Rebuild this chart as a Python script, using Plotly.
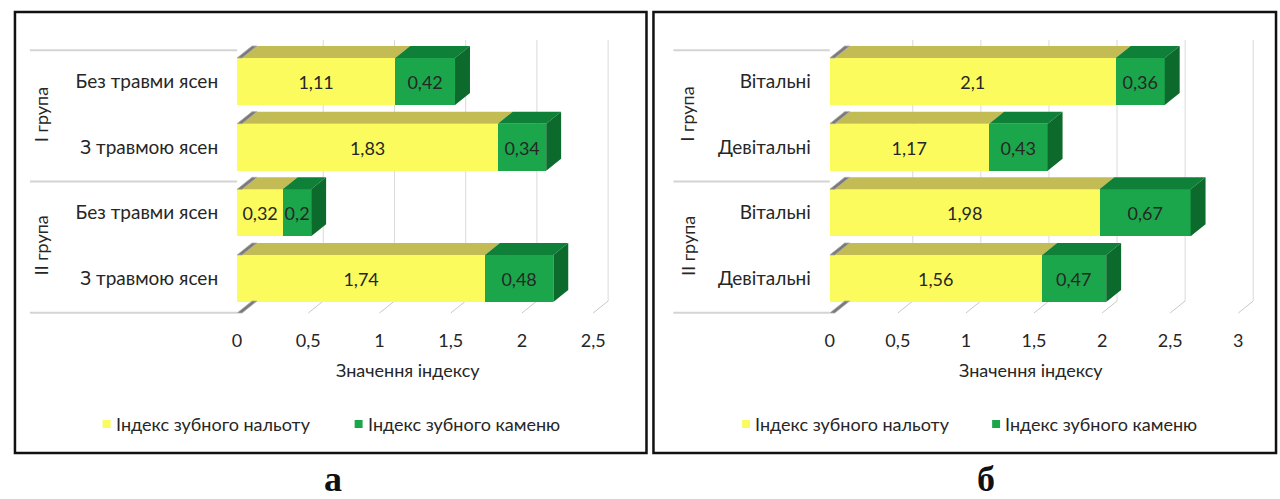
import plotly.graph_objects as go

# ---------------- data ----------------
groups = ["I група", "II група"]
series_names = ["Індекс зубного нальоту", "Індекс зубного каменю"]
axis_title = "Значення індексу"
panel_letters = ["а", "б"]

cats_a = ["Без травми ясен", "З травмою ясен", "Без травми ясен", "З травмою ясен"]
plaque_a = [1.11, 1.83, 0.32, 1.74]
calculus_a = [0.42, 0.34, 0.2, 0.48]
ticks_a = [0, 0.5, 1, 1.5, 2, 2.5]

cats_b = ["Вітальні", "Девітальні", "Вітальні", "Девітальні"]
plaque_b = [2.1, 1.17, 1.98, 1.56]
calculus_b = [0.36, 0.43, 0.67, 0.47]
ticks_b = [0, 0.5, 1, 1.5, 2, 2.5, 3]

# ---------------- styling / geometry ----------------
W, H = 1280, 499
FONT = "Lato"
FS = 18
TXT = "#262626"
YEL_FRONT, YEL_TOP = "#fbfb5e", "#c3bc55"
GRN_FRONT, GRN_TOP, GRN_SIDE = "#1ca64b", "#0f8038", "#0b6a2c"
GRID = "#d9d9d9"

ROW_PX = 65.67          # pixel pitch between rows
ROW0_PX = 81.5          # pixel centre of the first row
BAR_W = 47 / ROW_PX     # front-face thickness in row units
DEPTH_X_PX, DEPTH_Y_PX = 15, 12
Y_TOP_PX, Y_BOT_PX = 40, 316
FLOOR_PX = 313

def py(v):
    """row value -> pixel from top"""
    return ROW0_PX + ROW_PX * v

def pv(p):
    """pixel from top -> row value"""
    return (p - ROW0_PX) / ROW_PX

def fx(p):
    return p / W

def fy(p):
    return 1 - p / H

panels = [
    dict(cats=cats_a, plaque=plaque_a, calc=calculus_a, ticks=ticks_a,
         zero=233, scale=143.0, right=640, xa="x", ya="y",
         border=(10, 644), grp_line=(25, 233), grp_x=36, lab_right=213,
         title_x=405, legend=(98, 351), letter_x=329),
    dict(cats=cats_b, plaque=plaque_b, calc=calculus_b, ticks=ticks_b,
         zero=828, scale=136.7, right=1268, xa="x2", ya="y2",
         border=(651, 1276), grp_line=(671, 828), grp_x=685, lab_right=808,
         title_x=1030, legend=(740, 991), letter_x=985),
]

fig = go.Figure()
shapes, annotations = [], []
dy = DEPTH_Y_PX / ROW_PX
rows = list(range(4))
y_range = [pv(Y_BOT_PX), pv(Y_TOP_PX)]

def fmt(v):
    return f"{v:g}".replace(".", ",")

def note(x, y, text, size=FS, **kw):
    d = dict(xref="paper", yref="paper", x=fx(x), y=fy(y), text=text, showarrow=False,
             xanchor="center", yanchor="middle",
             font=dict(family=FONT, size=size, color=TXT))
    d.update(kw)
    return d

for k, p in enumerate(panels):
    dx = DEPTH_X_PX / p["scale"]
    xr = (p["right"] - p["zero"]) / p["scale"]
    xref, yref = p["xa"], p["ya"]

    # front faces of the stacked bars
    for vals, nm, col in ((p["plaque"], series_names[0], YEL_FRONT),
                          (p["calc"], series_names[1], GRN_FRONT)):
        fig.add_trace(go.Bar(
            y=rows, x=vals, orientation="h", width=BAR_W,
            name=nm, marker=dict(color=col, line=dict(width=0)),
            text=[fmt(v) for v in vals], textposition="inside", textangle=0,
            insidetextanchor="middle", textfont=dict(family=FONT, size=FS, color=TXT),
            xaxis=xref, yaxis=yref, showlegend=False, hoverinfo="skip"))

    # back wall grid lines and floor diagonals
    y_back_floor = pv(FLOOR_PX) - dy
    for t in p["ticks"][1:]:
        shapes.append(dict(type="line", xref=xref, yref=yref, layer="below",
                           x0=t + dx, x1=t + dx, y0=y_range[1], y1=y_back_floor,
                           line=dict(color=GRID, width=1)))
        shapes.append(dict(type="line", xref=xref, yref=yref, layer="below",
                           x0=t + dx, x1=t, y0=y_back_floor, y1=pv(FLOOR_PX),
                           line=dict(color="#c8c8c8", width=1)))

    # 3-D top and side faces
    for i in rows:
        yt = i - BAR_W / 2
        yb = i + BAR_W / 2
        segs = [(0, p["plaque"][i], YEL_TOP),
                (p["plaque"][i], p["plaque"][i] + p["calc"][i], GRN_TOP)]
        for x0, x1, col in segs:
            shapes.append(dict(type="path", xref=xref, yref=yref, layer="above",
                               path=f"M{x0},{yt} L{x1},{yt} L{x1+dx},{yt-dy} L{x0+dx},{yt-dy} Z",
                               fillcolor=col, line=dict(width=0)))
        xe = segs[-1][1]
        shapes.append(dict(type="path", xref=xref, yref=yref, layer="above",
                           path=f"M{xe},{yt} L{xe+dx},{yt-dy} L{xe+dx},{yb-dy} L{xe},{yb} Z",
                           fillcolor=GRN_SIDE, line=dict(width=0)))
    # grey wall edge pieces at the left end of each bar and at the floor
    w = 5 / p["scale"]
    for yt in [i - BAR_W / 2 for i in rows] + [pv(FLOOR_PX)]:
        shapes.append(dict(type="path", xref=xref, yref=yref, layer="above",
                           path=f"M0,{yt} L{w},{yt} L{dx+w},{yt-dy} L{dx},{yt-dy} Z",
                           fillcolor="#7a7a7a", line=dict(color="#b0b0b0", width=0.8)))

    # group separators in the label area
    for v in (-0.5, 1.5, 3.5):
        yy = fy(py(v) + 1.5)
        shapes.append(dict(type="line", xref="paper", yref="paper",
                           x0=fx(p["grp_line"][0]), x1=fx(p["grp_line"][1]), y0=yy, y1=yy,
                           line=dict(color="#d4d4d4", width=2)))
    for g, v in zip(groups, (0.5, 2.5)):
        annotations.append(note(p["grp_x"], py(v), g, textangle=-90))

    # axis title
    annotations.append(note(p["title_x"], 370, axis_title))

    # legend
    for lx, nm, col in zip(p["legend"], series_names, (YEL_FRONT, GRN_FRONT)):
        shapes.append(dict(type="rect", xref="paper", yref="paper",
                           x0=fx(lx), x1=fx(lx + 8), y0=fy(428), y1=fy(420),
                           fillcolor=col, line=dict(width=0)))
        annotations.append(note(lx + 11, 424, nm, xanchor="left"))

    # panel frame
    shapes.append(dict(type="rect", xref="paper", yref="paper",
                       x0=fx(p["border"][0]), x1=fx(p["border"][1]), y0=fy(453), y1=fy(12),
                       line=dict(color="#111111", width=2.5)))
    # panel letter
    annotations.append(dict(xref="paper", yref="paper", x=fx(p["letter_x"]), y=fy(479),
                            xanchor="center", yanchor="middle",
                            text=f"<b>{panel_letters[k]}</b>", showarrow=False,
                            font=dict(family="Liberation Serif", size=36, color="#111111")))

    # axes
    xax = dict(domain=[fx(p["zero"]), fx(p["right"])], range=[0, xr],
               tickvals=p["ticks"], ticktext=[fmt(t) for t in p["ticks"]],
               showgrid=False, zeroline=False, showline=False, ticks="",
               ticklabelstandoff=12,
               tickfont=dict(family=FONT, size=FS, color=TXT), anchor=yref)
    yax = dict(domain=[fy(Y_BOT_PX), fy(Y_TOP_PX)], range=y_range,
               tickvals=rows, ticktext=p["cats"], showgrid=False, zeroline=False,
               showline=False, ticks="", ticklabelstandoff=p["zero"] - p["lab_right"] - 2,
               tickfont=dict(family=FONT, size=FS + 1, color=TXT), anchor=xref)
    fig.layout["xaxis" + ("" if k == 0 else "2")] = xax
    fig.layout["yaxis" + ("" if k == 0 else "2")] = yax

fig.update_layout(
    width=W, height=H, margin=dict(l=0, r=0, t=0, b=0),
    paper_bgcolor="white", plot_bgcolor="rgba(0,0,0,0)",
    barmode="stack", bargap=0,
    uniformtext=dict(minsize=FS, mode="show"),
    shapes=shapes, annotations=annotations,
)

fig.write_html("out.html")
